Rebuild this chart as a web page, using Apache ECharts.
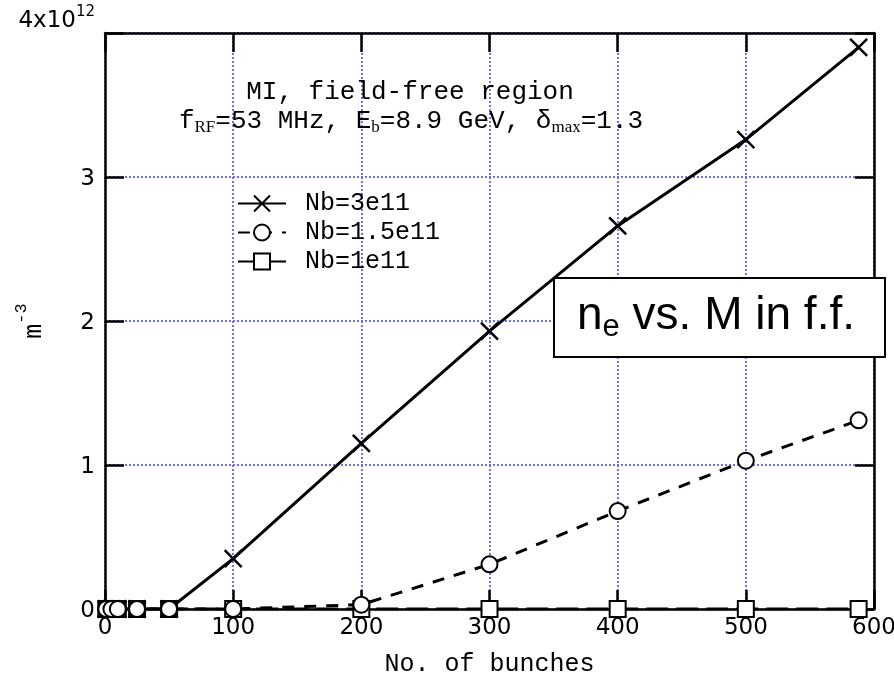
<!DOCTYPE html>
<html><head><meta charset="utf-8">
<script src="https://cdn.jsdelivr.net/npm/echarts@6/dist/echarts.min.js"></script>
<style>html,body{margin:0;padding:0;background:#fff}#c{width:894px;height:675px}</style>
</head><body><div id="c"></div>
<script>
// Number of bunches (x) and electron density in units of 1e12 m^-3 (y)
const bunches = [1, 5, 10, 25, 50, 100, 200, 300, 400, 500, 588];
const ne_3e11 = [0, 0, 0, 0, 0, 0.35, 1.15, 1.93, 2.66, 3.26, 3.90];
const ne_1p5e11 = [0, 0, 0, 0, 0, 0, 0.03, 0.31, 0.68, 1.03, 1.31];
const ne_1e11 = [0, 0, 0, 0, 0, 0, 0, 0, 0, 0, 0];
const seriesNames = ['Nb=3e11', 'Nb=1.5e11', 'Nb=1e11'];
const xTicks = [0, 100, 200, 300, 400, 500, 600];
const yTickLabels = ['0', '1', '2', '3', '4x10'];
const yTopExponent = '12';

const pairs = ys => bunches.map((x, i) => [x, ys[i]]);
const mono = 'Liberation Mono';
const sans = 'DejaVu Sans';
const gridLine = {show: true, lineStyle: {color: '#6f6fff', width: 2, type: [2, 2]}};
const frameLine = {show: true, onZero: false, lineStyle: {color: '#000', width: 2.5}};
const tick = {show: true, inside: true, length: 19, lineStyle: {color: '#000', width: 2.5}};

const chart = echarts.init(document.getElementById('c'));
chart.setOption({
  backgroundColor: '#fff',
  animation: false,
  grid: {left: 105, right: 20, top: 33, bottom: 66, containLabel: false, outerBoundsMode: 'none'},
  xAxis: [{
    type: 'value', min: 0, max: 600, interval: 100,
    axisLine: frameLine, axisTick: tick, splitLine: gridLine,
    axisLabel: {color: '#000', fontFamily: sans, fontSize: 23, margin: 8,
      formatter: v => xTicks.includes(v) ? String(v) : ''},
    name: 'No. of bunches', nameLocation: 'middle', nameGap: 43, nameMoveOverlap: false,
    nameTextStyle: {color: '#000', fontFamily: mono, fontSize: 25}
  }, {
    type: 'value', position: 'top', min: 0, max: 600, interval: 100,
    axisLine: frameLine, axisTick: tick, splitLine: {show: false}, axisLabel: {show: false}
  }],
  yAxis: [{
    type: 'value', min: 0, max: 4, interval: 1,
    axisLine: frameLine, axisTick: tick, splitLine: gridLine,
    axisLabel: {color: '#000', fontFamily: sans, fontSize: 22, margin: 10,
      formatter: v => v === 4 ? '{a|' + yTickLabels[4] + '}{s|' + yTopExponent + '}\n{g| }' : '{a|' + yTickLabels[v] + '}',
      rich: {
        a: {fontFamily: sans, fontSize: 23, lineHeight: 28, verticalAlign: 'bottom'},
        s: {fontFamily: sans, fontSize: 15, lineHeight: 15, verticalAlign: 'top'},
        g: {fontSize: 10, lineHeight: 28}
      }},
    name: '{b|m}{s|-3}', nameLocation: 'middle', nameGap: 58, nameRotate: 90, nameMoveOverlap: false,
    nameTextStyle: {color: '#000', rich: {
      b: {fontFamily: mono, fontSize: 25, lineHeight: 34, verticalAlign: 'bottom'},
      s: {fontFamily: mono, fontSize: 17, lineHeight: 17, verticalAlign: 'top'}
    }}
  }, {
    type: 'value', position: 'right', min: 0, max: 4, interval: 1,
    axisLine: frameLine, axisTick: tick, splitLine: {show: false}, axisLabel: {show: false}
  }],
  legend: {
    orient: 'vertical', left: 232, top: 186, itemWidth: 48, itemHeight: 20, itemGap: 4,
    data: seriesNames,
    textStyle: {color: '#000', fontFamily: mono, fontSize: 25, lineHeight: 20, padding: [0, 0, 0, 14]}
  },
  series: [{
    name: seriesNames[0], type: 'line', data: pairs(ne_3e11),
    symbol: 'path://M0 0L10 10M10 0L0 10', symbolSize: 17,
    itemStyle: {color: 'rgba(0,0,0,0)', borderColor: '#000', borderWidth: 2.5},
    lineStyle: {color: '#000', width: 3}, z: 3
  }, {
    name: seriesNames[1], type: 'line', data: pairs(ne_1p5e11),
    symbol: 'emptyCircle', symbolSize: 16,
    itemStyle: {color: '#000', borderWidth: 2.5},
    lineStyle: {color: '#000', width: 3, type: [12, 10]}, z: 4
  }, {
    name: seriesNames[2], type: 'line', data: pairs(ne_1e11),
    symbol: 'emptyRect', symbolSize: 16,
    itemStyle: {color: '#000', borderWidth: 2.5},
    lineStyle: {color: '#000', width: 3, type: [22, 8]}, z: 2
  }],
  graphic: [
    {type: 'text', x: 410, y: 92, z: 10, style: {
      text: 'MI, field-free region', fill: '#000', font: '26px "Liberation Mono"',
      align: 'center', verticalAlign: 'middle'}},
    {type: 'text', x: 411, y: 122, z: 10, style: {
      text: '{m|f}{s|RF}{m|=53 MHz, E}{s|b}{m|=8.9 GeV, δ}{s|max}{m|=1.3}',
      align: 'center', verticalAlign: 'middle', fill: '#000',
      rich: {
        m: {fontFamily: mono, fontSize: 26, lineHeight: 28, verticalAlign: 'top'},
        s: {fontFamily: 'Liberation Serif', fontSize: 17, lineHeight: 17, verticalAlign: 'bottom'}
      }}},
    {type: 'rect', z: 20, shape: {x: 554, y: 278, width: 331, height: 79},
      style: {fill: '#fff', stroke: '#000', lineWidth: 2}},
    {type: 'text', x: 716, y: 318, z: 21, style: {
      text: '{m|n}{s|e}{m| vs. M in f.f.}', align: 'center', verticalAlign: 'middle', fill: '#000',
      rich: {
        m: {fontFamily: 'Liberation Sans', fontSize: 46, lineHeight: 50, verticalAlign: 'top'},
        s: {fontFamily: 'Liberation Sans', fontSize: 31, lineHeight: 31, verticalAlign: 'bottom'}
      }}}
  ]
});
</script></body></html>
